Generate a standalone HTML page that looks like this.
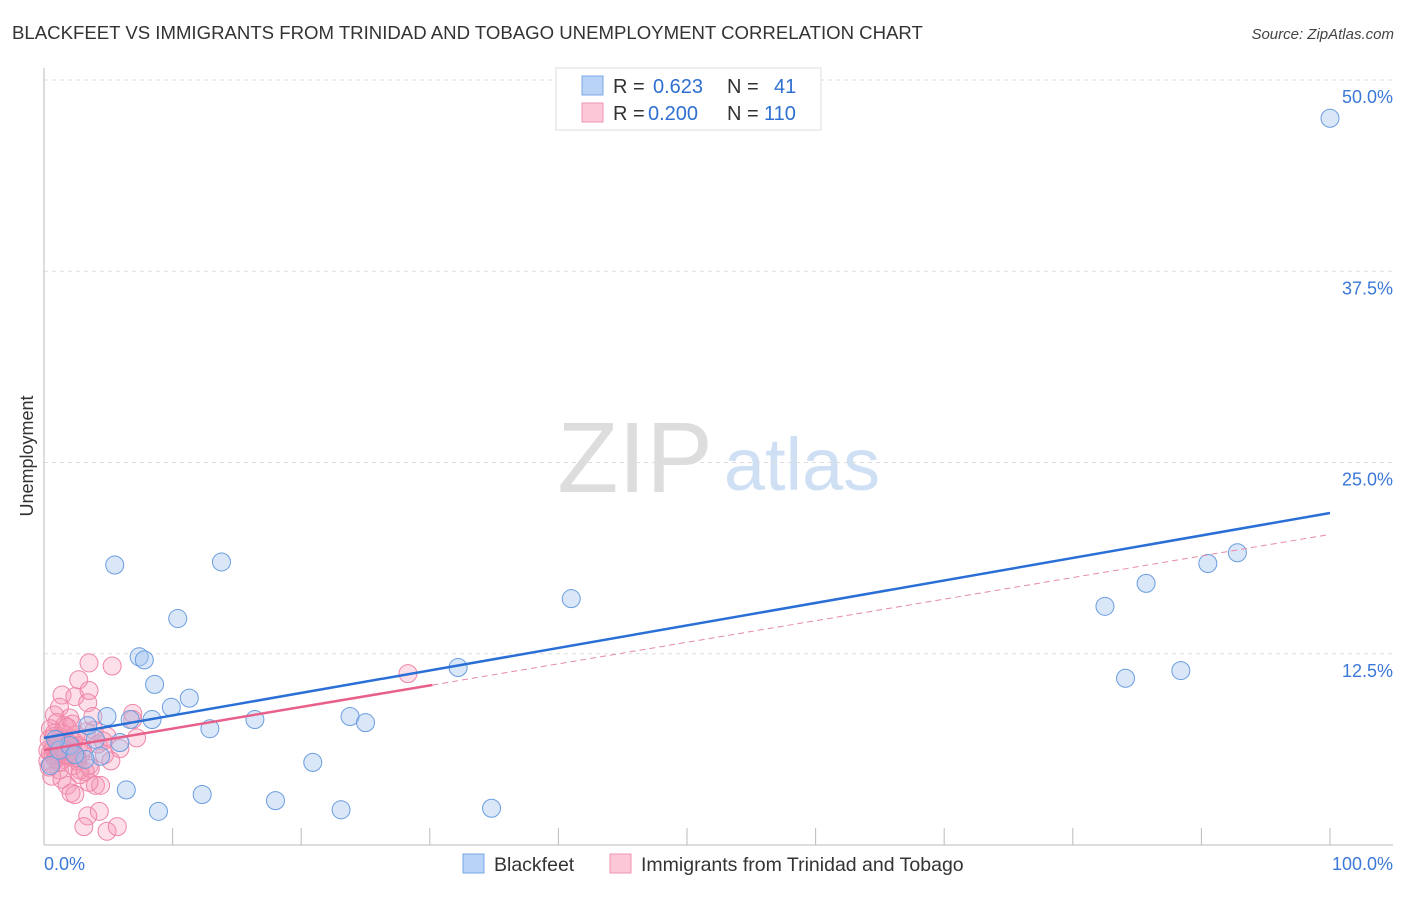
<!DOCTYPE html>
<html><head><meta charset="utf-8"><style>
body{margin:0;background:#fff;font-family:"Liberation Sans",sans-serif}
svg text{font-family:"Liberation Sans",sans-serif}
</style></head><body>
<svg id="chart" width="1406" height="892" xmlns="http://www.w3.org/2000/svg">
<text x="12" y="39" font-size="18.6" fill="#333">BLACKFEET VS IMMIGRANTS FROM TRINIDAD AND TOBAGO UNEMPLOYMENT CORRELATION CHART</text>
<text x="1394" y="39" font-size="15" fill="#444" text-anchor="end" font-style="italic">Source: ZipAtlas.com</text>
<text transform="translate(33,456) rotate(-90)" font-size="18" fill="#333" text-anchor="middle">Unemployment</text>
<g>
<text x="635" y="492" font-size="100" fill="#ddd" font-family="Liberation Serif" text-anchor="middle">ZIP</text>
<text x="802" y="490" font-size="74" fill="#cfe0f4" text-anchor="middle">atlas</text>
</g>
<g id="grid"></g><g id="marks"></g>
<g>
<rect x="556" y="68" width="265" height="62" fill="#fff" stroke="#ddd"/>
<rect x="582" y="76" width="21" height="19" fill="#b8d3f5" stroke="#7aa7e6"/>
<rect x="582" y="103" width="21" height="19" fill="#fcc8d8" stroke="#f093b0"/>
<text x="613" y="93" font-size="20" fill="#333">R =</text><text x="653" y="93" font-size="20" fill="#2f6fd0">0.623</text>
<text x="727" y="93" font-size="20" fill="#333">N =</text><text x="774" y="93" font-size="20" fill="#2f6fd0">41</text>
<text x="613" y="120" font-size="20" fill="#333">R =</text><text x="648" y="120" font-size="20" fill="#2f6fd0">0.200</text>
<text x="727" y="120" font-size="20" fill="#333">N =</text><text x="764" y="120" font-size="20" fill="#2f6fd0">110</text>
</g>
<g>
<rect x="463" y="854" width="21" height="19" fill="#b8d3f5" stroke="#7aa7e6"/>
<text x="494" y="871" font-size="19.5" fill="#333">Blackfeet</text>
<rect x="610" y="854" width="21" height="19" fill="#fcc8d8" stroke="#f093b0"/>
<text x="641" y="871" font-size="19.5" fill="#333">Immigrants from Trinidad and Tobago</text>
</g>
</svg>
<script>
const yTicks=[12.5,25,37.5,50];
const yTickLabels=["12.5%","25.0%","37.5%","50.0%"];
const blackfeetX=[100,5.5,13.8,10.4,7.4,7.8,8.6,11.3,9.9,4.9,8.4,6.7,12.9,16.4,5.9,4.0,4.4,3.2,20.9,6.4,12.3,8.9,18.0,23.1,34.8,23.8,25.0,32.2,41.0,82.5,85.7,90.5,92.8,84.1,88.4,0.5,1.2,2.0,2.4,0.9,3.4];
const blackfeetY=[47.5,18.3,18.5,14.8,12.3,12.1,10.5,9.6,9.0,8.4,8.2,8.2,7.6,8.2,6.7,6.9,5.8,5.6,5.4,3.6,3.3,2.2,2.9,2.3,2.4,8.4,8.0,11.6,16.1,15.6,17.1,18.4,19.1,10.9,11.4,5.2,6.2,6.5,5.9,6.9,7.8];
const immX=[3.5,5.3,2.7,3.5,1.4,2.4,3.4,1.2,0.8,2.0,3.8,6.9,6.9,28.3,7.2,4.9,5.9,4.7,1.8,2.1,2.4,4.0,4.4,3.5,4.3,3.4,3.1,4.9,5.7,1.2,2.8,3.5,
0.3,0.5,0.7,0.9,1.1,1.3,1.5,1.7,1.9,2.1,2.3,2.5,2.7,2.9,0.4,0.6,0.8,1.0,1.2,1.4,1.6,1.8,2.0,2.2,2.6,3.0,3.3,0.3,0.7,1.1,1.5,1.9,2.3,0.5,0.9,1.3,1.7,2.1,2.5,3.9,4.2,1.0,1.6,2.2,0.6,1.4,2.8,3.6,0.4,1.2,2.0,0.8,1.8,4.6,5.2,3.2,2.6,1.5];
const immY=[11.9,11.7,10.8,10.1,9.8,9.7,9.3,9.0,8.5,8.3,8.4,8.6,8.2,11.2,7.0,7.1,6.3,5.9,3.9,3.4,3.3,3.9,3.9,4.1,2.2,1.9,1.2,0.9,1.2,4.9,4.9,5.2,
5.5,6.0,6.3,5.8,6.6,6.1,5.6,6.4,5.9,6.2,6.8,5.7,6.5,6.0,6.9,5.3,7.1,6.7,5.4,7.3,6.2,5.8,7.0,6.4,5.5,6.3,7.4,6.2,5.9,6.0,6.8,6.5,5.2,7.6,5.6,6.4,5.9,6.1,7.2,7.5,6.6,8.0,7.8,7.9,4.5,4.3,4.6,5.0,5.1,6.9,6.6,7.3,7.7,6.8,5.5,4.8,5.7,6.3];
const blueTrend=[7.0,21.7];
const pinkTrend=[6.2,20.3];
const pinkSolidEnd=30.2;
const X0=44,X1=1330,Y0=845,PER=15.3;
const sx=v=>X0+(X1-X0)*v/100, sy=v=>Y0-PER*v;
const NS="http://www.w3.org/2000/svg";
const grid=document.getElementById('grid'),marks=document.getElementById('marks');
function mk(p,t,a){const e=document.createElementNS(NS,t);for(const k in a)e.setAttribute(k,a[k]);p.appendChild(e);return e;}
yTicks.forEach((t,i)=>{
 const l=mk(grid,'line',{x1:X0,x2:1393,y1:sy(t),y2:sy(t),stroke:'#ddd','stroke-dasharray':'4,4'});
 
 
 const tx=mk(grid,'text',{x:1393,y:sy(t)+23,'font-size':18,fill:'#3b78d8','text-anchor':'end'});tx.textContent=yTickLabels[i];
 
 
});
const ax=mk(grid,'line',{x1:X0,x2:X0,y1:68,y2:Y0,stroke:'#bbb'});


const bx=mk(grid,'line',{x1:X0,x2:1393,y1:Y0,y2:Y0,stroke:'#bbb'});


for(let i=0;i<=10;i++){const t=mk(grid,'line',{x1:sx(i*10),x2:sx(i*10),y1:828,y2:Y0,stroke:'#bbb'});
 
 }
[["0.0%",44,'start'],["100.0%",1393,'end']].forEach(d=>{const t=mk(grid,'text',{x:d[1],y:870,'font-size':18,fill:'#3b78d8','text-anchor':d[2]});t.textContent=d[0];
 
 });
immX.forEach((x,i)=>{const c=mk(marks,'circle',{cx:sx(x),cy:sy(immY[i]),r:9,fill:'rgba(245,150,180,0.3)',stroke:'#ef86a8','stroke-width':1});
 
 });
blackfeetX.forEach((x,i)=>{const c=mk(marks,'circle',{cx:sx(x),cy:sy(blackfeetY[i]),r:9,fill:'rgba(160,196,240,0.4)',stroke:'#6b9de0','stroke-width':1});
 
 });
const bl=mk(marks,'line',{x1:sx(0),y1:sy(blueTrend[0]),x2:sx(100),y2:sy(blueTrend[1]),stroke:'#2a6fd6','stroke-width':2.5});


const pe=pinkTrend[0]+(pinkTrend[1]-pinkTrend[0])*pinkSolidEnd/100;
const pl=mk(marks,'line',{x1:sx(0),y1:sy(pinkTrend[0]),x2:sx(pinkSolidEnd),y2:sy(pe),stroke:'#e8608a','stroke-width':2.5});


const pd=mk(marks,'line',{x1:sx(pinkSolidEnd),y1:sy(pe),x2:sx(100),y2:sy(pinkTrend[1]),stroke:'#e88aa8','stroke-width':1,'stroke-dasharray':'6,4'});


</script>
</body></html>
